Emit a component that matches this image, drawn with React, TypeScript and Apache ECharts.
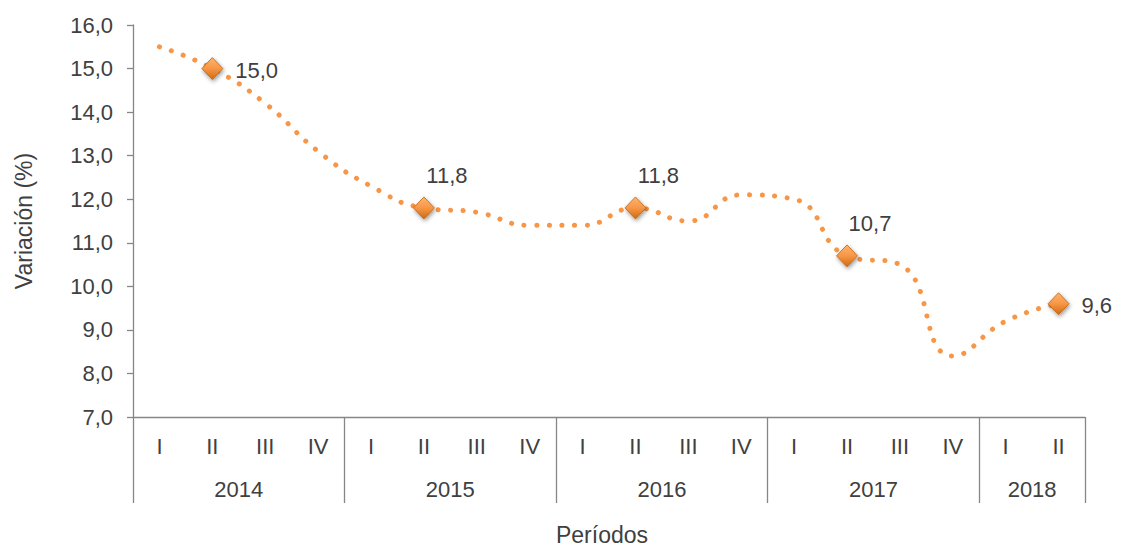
import React, { useEffect, useRef } from "react";
import * as echarts from "echarts";

const quarters = ["I", "II", "III", "IV", "I", "II", "III", "IV", "I", "II", "III", "IV", "I", "II", "III", "IV", "I", "II"];
const values = [15.5, 15.0, 14.2, 13.1, 12.3, 11.8, 11.7, 11.4, 11.4, 11.8, 11.5, 12.1, 12.0, 10.7, 10.5, 8.4, 9.2, 9.6];
const years = ["2014", "2015", "2016", "2017", "2018"];
const yearCenters = [2, 6, 10, 14, 17];
const yearBoundaries = [0, 4, 8, 12, 16, 18];
const labeledIdx = [1, 5, 9, 13, 17];
const labelPos = ["right", "top", "top", "top", "right"];

const fmt = (v: number) => v.toFixed(1).replace(".", ",");

export default function App() {
  const ref = useRef<HTMLDivElement>(null);
  useEffect(() => {
    if (!ref.current) return;
    const chart = echarts.init(ref.current, null, { renderer: "svg" });
    const textColor = "#404040";
    const axisColor = "#868686";
    const font = "Liberation Sans, Arial, sans-serif";
    const data = values.map((v, i) => {
      const k = labeledIdx.indexOf(i);
      if (k < 0) return { value: v, symbol: "none" };
      const pos = labelPos[k];
      return {
        value: v,
        symbol: "diamond",
        symbolSize: [21, 22],
        label: {
          show: true,
          position: pos,
          distance: pos === "right" ? 12 : 10,
          offset: pos === "top" ? [23, 0] : [0, 2],
          formatter: (p: any) => fmt(p.value),
          color: textColor,
          fontSize: 22,
          fontFamily: font,
        },
      };
    });
    chart.setOption({
      animation: false,
      backgroundColor: "#ffffff",
      grid: { left: 133, right: 36, top: 25, bottom: 133, containLabel: false, outerBoundsMode: "none" },
      xAxis: [
        {
          type: "category",
          data: quarters,
          boundaryGap: true,
          position: "bottom",
          axisLine: { show: true, lineStyle: { color: axisColor, width: 1.3 } },
          axisTick: { show: false },
          axisLabel: { color: textColor, fontSize: 22, fontFamily: font, margin: 18, interval: 0 },
          splitLine: { show: false },
        },
        {
          type: "value",
          min: 0,
          max: 18,
          position: "bottom",
          axisLine: { show: false },
          axisTick: {
            show: true,
            customValues: yearBoundaries,
            length: 86,
            lineStyle: { color: axisColor, width: 1.3 },
          },
          axisLabel: {
            show: true,
            customValues: yearCenters,
            formatter: (v: number) => years[yearCenters.indexOf(v)] ?? "",
            color: textColor,
            fontSize: 22,
            fontFamily: font,
            margin: 61,
          },
          splitLine: { show: false },
          name: "Períodos",
          nameLocation: "middle",
          nameGap: 106,
          nameTextStyle: { color: textColor, fontSize: 23, fontFamily: font, padding: [0, 14, 0, 0] },
        },
      ],
      yAxis: {
        type: "value",
        min: 7,
        max: 16,
        interval: 1,
        axisLine: { show: true, lineStyle: { color: axisColor, width: 1.3 } },
        axisTick: { show: true, length: 6, lineStyle: { color: axisColor, width: 1.3 } },
        axisLabel: { color: textColor, fontSize: 22, fontFamily: font, margin: 20, formatter: (v: number) => fmt(v) },
        splitLine: { show: false },
        name: "Variación (%)",
        nameLocation: "middle",
        nameGap: 98,
        nameTextStyle: { color: textColor, fontSize: 23, fontFamily: font },
      },
      series: [
        {
          type: "line",
          xAxisIndex: 0,
          yAxisIndex: 0,
          data,
          smooth: 0.5,
          lineStyle: { color: "#F79646", width: 5, type: [0.1, 12.5], cap: "round" },
          itemStyle: {
            color: new echarts.graphic.LinearGradient(0, 0, 0, 1, [
              { offset: 0, color: "#FDB56E" },
              { offset: 0.5, color: "#F79646" },
              { offset: 1, color: "#CF6A12" },
            ]),
            borderColor: "#C0620E",
            borderWidth: 0.8,
            shadowColor: "rgba(0,0,0,0.4)",
            shadowBlur: 4,
            shadowOffsetX: 1,
            shadowOffsetY: 2,
          },
          z: 3,
        },
      ],
    });
    return () => chart.dispose();
  }, []);
  return <div ref={ref} style={{ position: "fixed", left: 0, top: 0, width: 1121, height: 550 }} />;
}
